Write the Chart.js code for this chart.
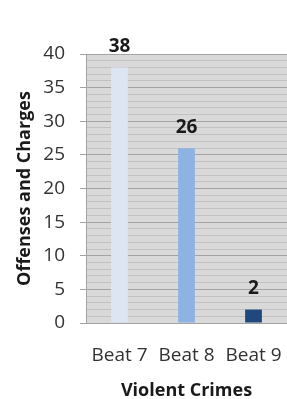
<!DOCTYPE html>
<html lang="en">
<head>
    <meta charset="UTF-8">
    <title>Violent Crimes</title>
    <script src="https://cdn.jsdelivr.net/npm/chart.js"></script>
    <style>
        html, body { margin: 0; padding: 0; background: #fff; }
        #wrap { width: 287px; height: 399px; }
    </style>
</head>
<body>
    <div id="wrap"><canvas id="crimeChart" width="287" height="399"></canvas></div>

    <script>
        // data
        const beats = ['Beat 7', 'Beat 8', 'Beat 9'];
        const counts = [38, 26, 2];
        const barColors = ['#dce6f2', '#8db3e2', '#1f497d'];

        const fontFamily = '"Open Sans", "Liberation Sans", sans-serif';

        // grey plot background
        const plotBg = {
            id: 'plotBg',
            beforeDraw(chart) {
                const a = chart.chartArea;
                const ctx = chart.ctx;
                ctx.save();
                ctx.fillStyle = '#d9d9d9';
                ctx.fillRect(a.left, a.top, a.right - a.left, a.bottom - a.top);
                ctx.restore();
            }
        };

        // value labels over the bars
        const valueLabels = {
            id: 'valueLabels',
            afterDatasetsDraw(chart) {
                const ctx = chart.ctx;
                const meta = chart.getDatasetMeta(0);
                ctx.save();
                ctx.font = 'bold 19px ' + fontFamily;
                ctx.fillStyle = '#1a1a1a';
                ctx.textAlign = 'center';
                ctx.textBaseline = 'middle';
                meta.data.forEach((bar, i) => {
                    ctx.fillText(counts[i], bar.x, bar.y - 21);
                });
                ctx.restore();
            }
        };

        const ctx = document.getElementById('crimeChart').getContext('2d');
        new Chart(ctx, {
            type: 'bar',
            data: {
                labels: beats,
                datasets: [{
                    data: counts,
                    backgroundColor: barColors,
                    borderWidth: 0,
                    categoryPercentage: 1,
                    barPercentage: 0.25
                }]
            },
            options: {
                responsive: false,
                animation: false,
                layout: { padding: { top: 54, right: 0, left: 14, bottom: 0 } },
                plugins: {
                    legend: { display: false },
                    tooltip: { enabled: false }
                },
                scales: {
                    y: {
                        min: 0,
                        max: 40,
                        afterFit: s => { s.width = 72; },
                        ticks: {
                            stepSize: 1,
                            autoSkip: false,
                            padding: 15,
                            color: '#333',
                            font: { family: fontFamily, size: 19 },
                            callback: v => (v % 5 === 0 ? v : '')
                        },
                        grid: {
                            color: c => (c.tick.value % 5 === 0 ? '#a3a3a3' : '#c2c2c2'),
                            tickColor: c => (c.tick.value % 5 === 0 ? '#a3a3a3' : 'rgba(0,0,0,0)'),
                            tickLength: 6,
                            lineWidth: 1
                        },
                        border: { color: '#a3a3a3' },
                        title: {
                            display: true,
                            text: 'Offenses and Charges',
                            color: '#1a1a1a',
                            font: { family: fontFamily, size: 18, weight: 'bold' },
                            padding: { top: 0, bottom: 0 }
                        }
                    },
                    x: {
                        afterFit: s => { s.height = 76; s.paddingLeft = 0; s.paddingRight = 0; },
                        ticks: {
                            color: '#333',
                            padding: 13,
                            font: { family: fontFamily, size: 19 }
                        },
                        grid: { display: false },
                        border: { color: '#a3a3a3' },
                        title: {
                            display: true,
                            text: 'Violent Crimes',
                            color: '#1a1a1a',
                            font: { family: fontFamily, size: 18, weight: 'bold' },
                            padding: { top: 0, bottom: -3 }
                        }
                    }
                }
            },
            plugins: [plotBg, valueLabels]
        });
    </script>
</body>
</html>
